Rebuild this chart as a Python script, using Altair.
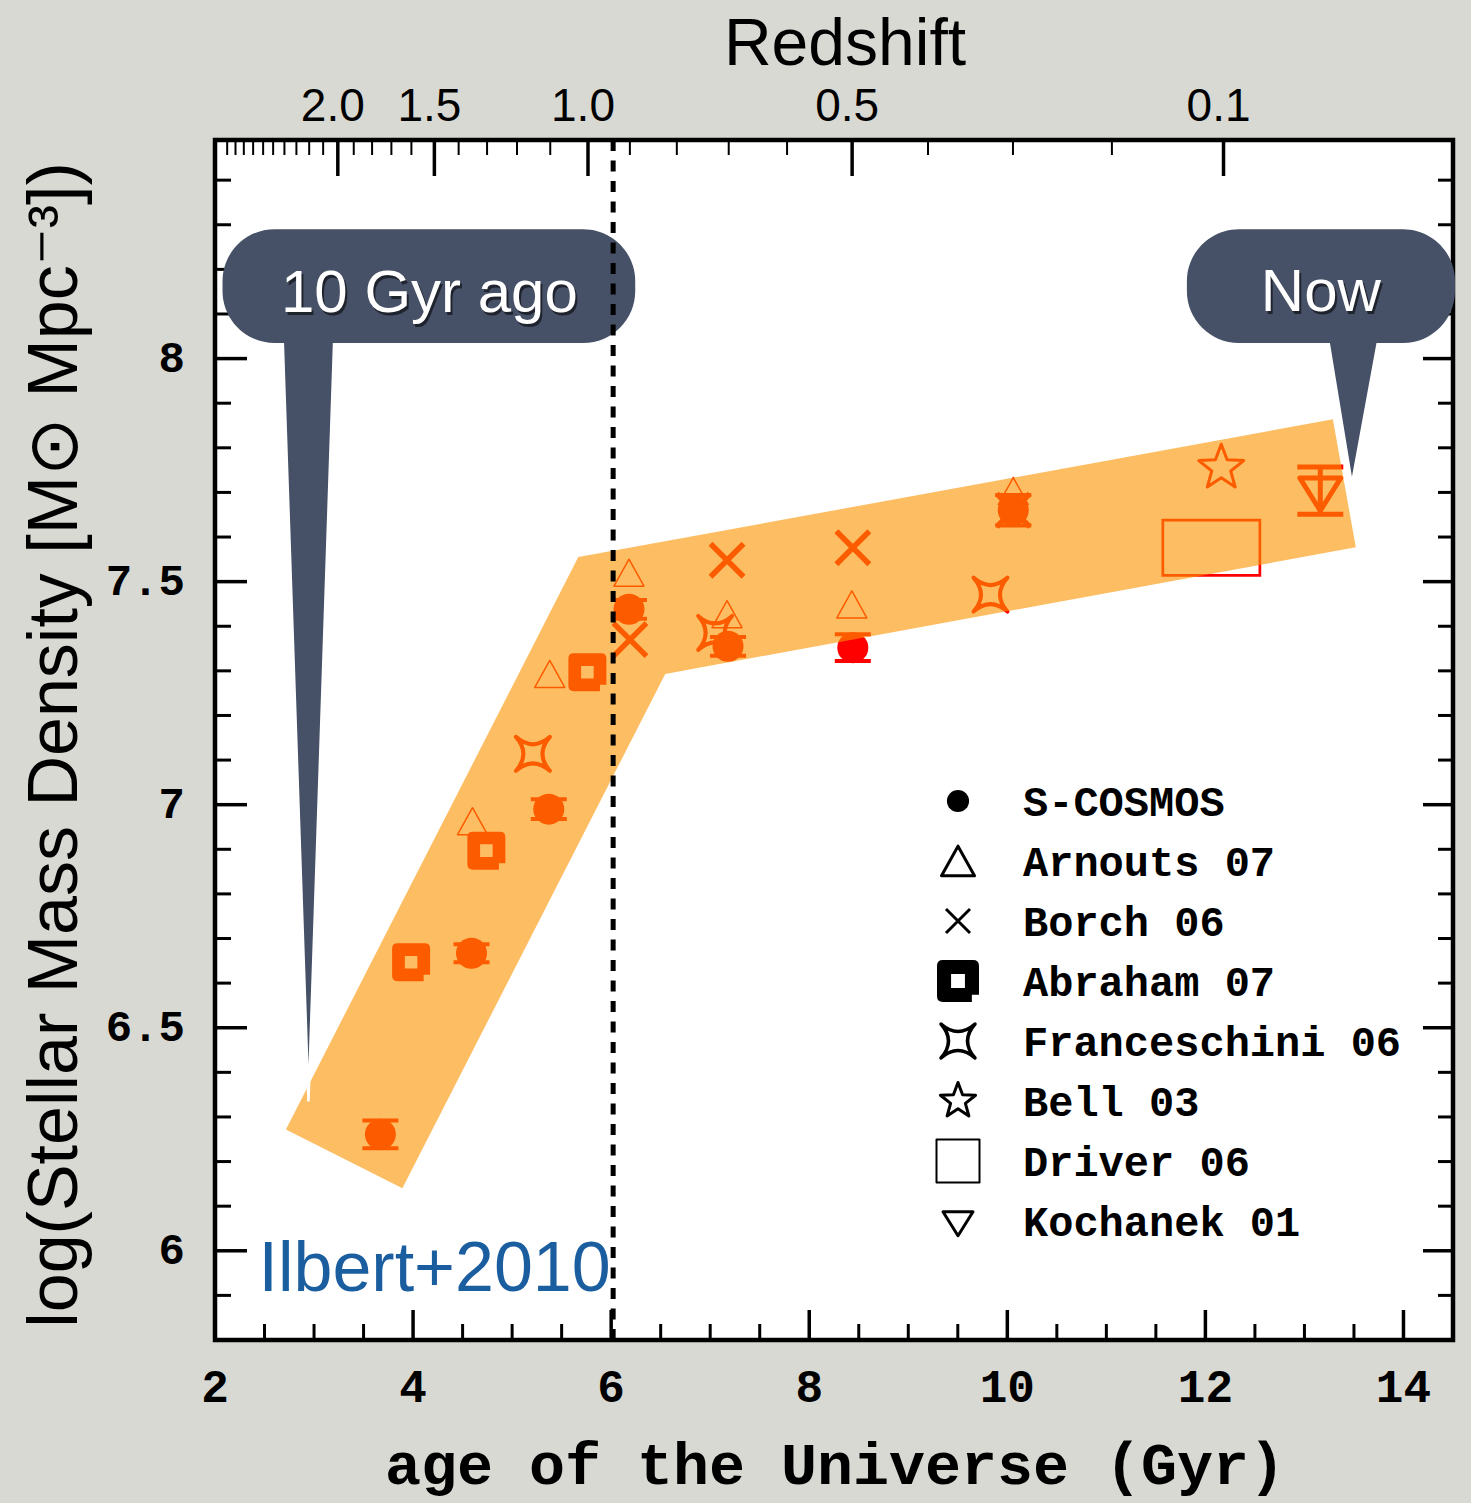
import altair as alt
import pandas as pd

# ---------------------------------------------------------------
# Stellar mass density (log rho*, Msun Mpc^-3) vs. age of the Universe
# ---------------------------------------------------------------

# S-COSMOS (filled circles with error bars)
scosmos_age = [3.67, 4.59, 5.37, 6.18, 7.18, 8.44, 10.06]
scosmos_rho = [6.261, 6.667, 6.990, 7.438, 7.355, 7.352, 7.660]
scosmos_err = [0.031, 0.020, 0.022, 0.021, 0.021, 0.030, 0.034]

# Arnouts 07 (open triangles)
arnouts_age = [4.60, 5.38, 6.18, 7.17, 8.43, 10.06]
arnouts_rho = [6.963, 7.293, 7.520, 7.427, 7.449, 7.703]

# Borch 06 (crosses)
borch_age = [6.19, 7.17, 8.44, 10.06]
borch_rho = [7.370, 7.548, 7.576, 7.660]

# Abraham 07 (rounded squares)
abraham_age = [3.98, 4.74, 5.76]
abraham_rho = [6.647, 6.897, 7.297]

# Franceschini 06 (four-point stars)
franceschini_age = [5.21, 7.05, 9.83]
franceschini_rho = [7.114, 7.385, 7.471]

# Bell 03 (five-point star)
bell_age = [12.16]
bell_rho = [7.755]

# Driver 06 (box: age range x density range)
driver_age = [11.57, 12.55]
driver_rho = [7.514, 7.638]

# Kochanek 01 (down triangle with error bar)
kochanek_age = [13.16]
kochanek_rho = [7.704]
kochanek_err = [0.053]

# Shaded evolution band (polygon vertices)
band_age = [2.716, 5.668, 13.287, 13.519, 6.546, 3.892, 2.716]
band_rho = [6.272, 7.555, 7.864, 7.577, 7.293, 6.140, 6.272]

# Dotted divider
divider_age = [6.02]

# Axis ticks and labels
x_major = [2, 4, 6, 8, 10, 12, 14]
x_major_labels = ["2", "4", "6", "8", "10", "12", "14"]
x_minor = [2.5, 3, 3.5, 4.5, 5, 5.5, 6.5, 7, 7.5, 8.5, 9, 9.5,
           10.5, 11, 11.5, 12.5, 13, 13.5]
y_major = [6, 6.5, 7, 7.5, 8]
y_major_labels = ["6", "6.5", "7", "7.5", "8"]
y_minor = [5.9, 6.1, 6.2, 6.3, 6.4, 6.6, 6.7, 6.8, 6.9, 7.1, 7.2, 7.3,
           7.4, 7.6, 7.7, 7.8, 7.9, 8.1, 8.2, 8.3, 8.4]

# Redshift axis (top): ages of the redshift ticks
z_labels = ["2.0", "1.5", "1.0", "0.5", "0.1"]
z_major_age = [3.24, 4.215, 5.766, 8.433, 12.183]
z_minor_age = [2.123, 2.207, 2.291, 2.385, 2.486, 2.587, 2.701, 2.822,
               2.951, 3.092, 3.401, 3.586, 3.781, 3.983, 4.460, 4.747,
               5.049, 5.385, 6.189, 6.663, 7.187, 7.776, 9.199, 10.057,
               11.056]

legend_labels = ["S-COSMOS", "Arnouts 07", "Borch 06", "Abraham 07",
                 "Franceschini 06", "Bell 03", "Driver 06", "Kochanek 01"]

# Callouts
callout_text = ["10 Gyr ago", "Now"]
callout_box_age = [[2.076, 6.243], [11.813, 14.52]]
callout_box_rho = [8.035, 8.290]
callout_tail_age = [[2.681, 3.206, 2.944], [13.226, 13.761, 13.479]]
callout_tail_rho = [[8.06, 8.06, 6.335], [8.06, 8.06, 7.719]]
callout_text_age = [4.165, 13.166]
callout_text_rho = [8.104, 8.106]

credit_text = ["Ilbert+2010"]
credit_age = [2.439]
credit_rho = [5.909]

# ---------------------------------------------------------------
W, H = 1238, 1200
RED = "#ff0000"
SLATE = "#465066"
SANS = "Liberation Sans, Arial, Helvetica, sans-serif"
MONO = "Liberation Mono, Courier New, monospace"

xs = alt.Scale(domain=[2, 14.5], nice=False, zero=False)
ys = alt.Scale(domain=[5.8, 8.49], nice=False, zero=False)


def X(field="age"):
    return alt.X(f"{field}:Q", scale=xs, axis=None)


def Y(field="rho"):
    return alt.Y(f"{field}:Q", scale=ys, axis=None)


# Symbol paths
TRI_UP = "M0,-0.9L1,0.9L-1,0.9Z"
TRI_DOWN = "M-1,-0.62L1,-0.62L0,0.98Z"
CROSS = "M-1,-1L1,1M-1,1L1,-1"
ABRAHAM = ("M-0.72,-1L0.72,-1Q1,-1 1,-0.72L1,0.66L0.66,0.66L0.66,1L-0.72,1"
           "Q-1,1 -1,0.72L-1,-0.72Q-1,-1 -0.72,-1Z"
           "M-0.33,-0.33L-0.33,0.33L0.33,0.33L0.33,-0.33Z")
STAR4 = "M-1,-1Q0,-0.12 1,-1Q0.12,0 1,1Q0,0.12 -1,1Q-0.12,0 -1,-1Z"
STAR5 = ("M0,-1L0.247,-0.34L0.951,-0.309L0.399,0.13L0.588,0.809L0,0.42"
         "L-0.588,0.809L-0.399,0.13L-0.951,-0.309L-0.247,-0.34Z")
HBAR = "M-1,0L1,0"


def points(age, rho, shape, size, filled, sw=1.0, color=RED):
    df = pd.DataFrame({"age": age, "rho": rho})
    kw = dict(shape=shape, size=size, opacity=1, strokeWidth=sw)
    if filled:
        kw.update(filled=True, fill=color, strokeOpacity=0)
    else:
        kw.update(filled=False, stroke=color, strokeJoin="round")
    return alt.Chart(df).mark_point(**kw).encode(x=X(), y=Y())


layers = []

# Driver 06 box
drv = pd.DataFrame({"a0": [driver_age[0]], "a1": [driver_age[1]],
                    "r0": [driver_rho[0]], "r1": [driver_rho[1]]})
layers.append(alt.Chart(drv).mark_rect(fillOpacity=0, stroke=RED, strokeWidth=2.7)
              .encode(x=X("a0"), x2="a1", y=Y("r0"), y2="r1"))

# S-COSMOS error bars and points
sc = pd.DataFrame({"age": scosmos_age, "rho": scosmos_rho, "err": scosmos_err})
sc["lo"] = sc["rho"] - sc["err"]
sc["hi"] = sc["rho"] + sc["err"]
layers.append(alt.Chart(sc).mark_rule(color=RED, strokeWidth=4)
              .encode(x=X(), y=Y("lo"), y2="hi"))
for col in ["lo", "hi"]:
    layers.append(alt.Chart(sc).mark_point(shape=HBAR, size=36 ** 2, filled=False,
                                           stroke=RED, strokeWidth=4, opacity=1)
                  .encode(x=X(), y=Y(col)))
layers.append(points(scosmos_age, scosmos_rho, "circle", 962, True))

layers.append(points(arnouts_age, arnouts_rho, TRI_UP, 900, False, 1.5))
layers.append(points(borch_age, borch_rho, CROSS, 1089, False, 5.5))
layers.append(points(abraham_age, abraham_rho, ABRAHAM, 1444, True))
layers.append(points(franceschini_age, franceschini_rho, STAR4, 1156, False, 4))
layers.append(points(bell_age, bell_rho, STAR5, 2240, False, 3))

# Kochanek 01
kc = pd.DataFrame({"age": kochanek_age, "rho": kochanek_rho, "err": kochanek_err})
kc["lo"] = kc["rho"] - kc["err"]
kc["hi"] = kc["rho"] + kc["err"]
layers.append(alt.Chart(kc).mark_rule(color=RED, strokeWidth=5)
              .encode(x=X(), y=Y("lo"), y2="hi"))
for col in ["lo", "hi"]:
    layers.append(alt.Chart(kc).mark_point(shape=HBAR, size=46 ** 2, filled=False,
                                           stroke=RED, strokeWidth=5, opacity=1)
                  .encode(x=X(), y=Y(col)))
layers.append(points(kochanek_age, kochanek_rho, TRI_DOWN, 1681, False, 5))

# Translucent evolution band on top of the markers
band = pd.DataFrame({"age": band_age, "rho": band_rho, "i": list(range(len(band_age)))})
layers.append(alt.Chart(band).mark_line(fill="#fb9400", fillOpacity=0.61,
                                        strokeOpacity=0, interpolate="linear-closed")
              .encode(x=X(), y=Y(), order="i:Q"))

# Frame
frame = pd.DataFrame({"k": [0]})
layers.append(alt.Chart(frame).mark_rect(fillOpacity=0, stroke="black", strokeWidth=4.5)
              .encode(x=alt.value(0), x2=alt.value(W), y=alt.value(0), y2=alt.value(H)))

# Inward ticks: bottom / top (age), left / right (density)
xmaj = pd.DataFrame({"age": x_major, "label": x_major_labels})
xmin = pd.DataFrame({"age": x_minor})
layers.append(alt.Chart(xmaj).mark_rule(color="black", strokeWidth=3.5)
              .encode(x=X(), y=alt.value(H), y2=alt.value(H - 30)))
layers.append(alt.Chart(xmin).mark_rule(color="black", strokeWidth=3)
              .encode(x=X(), y=alt.value(H), y2=alt.value(H - 16)))
layers.append(alt.Chart(xmaj).mark_text(font=MONO, fontSize=46, fontWeight="bold",
                                        color="black", baseline="alphabetic")
              .encode(x=X(), y=alt.value(H + 62), text="label:N"))

zmaj = pd.DataFrame({"age": z_major_age, "label": z_labels})
zmin = pd.DataFrame({"age": z_minor_age})
layers.append(alt.Chart(zmaj).mark_rule(color="black", strokeWidth=3.5)
              .encode(x=X(), y=alt.value(0), y2=alt.value(36)))
layers.append(alt.Chart(zmin).mark_rule(color="black", strokeWidth=2)
              .encode(x=X(), y=alt.value(0), y2=alt.value(15)))

ymaj = pd.DataFrame({"rho": y_major, "label": y_major_labels})
ymin = pd.DataFrame({"rho": y_minor})
layers.append(alt.Chart(ymaj).mark_rule(color="black", strokeWidth=3.5)
              .encode(y=Y(), x=alt.value(0), x2=alt.value(32)))
layers.append(alt.Chart(ymin).mark_rule(color="black", strokeWidth=3)
              .encode(y=Y(), x=alt.value(0), x2=alt.value(16)))
layers.append(alt.Chart(ymaj).mark_rule(color="black", strokeWidth=3.5)
              .encode(y=Y(), x=alt.value(W), x2=alt.value(W - 30)))
layers.append(alt.Chart(ymin).mark_rule(color="black", strokeWidth=3)
              .encode(y=Y(), x=alt.value(W), x2=alt.value(W - 15)))
layers.append(alt.Chart(ymaj).mark_text(font=MONO, fontSize=44, fontWeight="bold",
                                        color="black", align="right", baseline="middle")
              .encode(y=Y(), x=alt.value(-30), text="label:N"))

# Callouts
for k in range(2):
    tail = pd.DataFrame({"age": callout_tail_age[k], "rho": callout_tail_rho[k],
                         "i": [0, 1, 2]})
    layers.append(alt.Chart(tail).mark_line(fill=SLATE, stroke="white", strokeWidth=2.5,
                                            interpolate="linear-closed")
                  .encode(x=X(), y=Y(), order="i:Q"))
    box = pd.DataFrame({"a0": [callout_box_age[k][0]], "a1": [callout_box_age[k][1]],
                        "r0": [callout_box_rho[0]], "r1": [callout_box_rho[1]]})
    layers.append(alt.Chart(box).mark_rect(cornerRadius=52, color=SLATE)
                  .encode(x=X("a0"), x2="a1", y=Y("r0"), y2="r1"))

ctext = pd.DataFrame({"age": callout_text_age, "rho": callout_text_rho, "t": callout_text})
layers.append(alt.Chart(ctext).mark_text(font=SANS, fontSize=60, color="black",
                                         opacity=0.55, dx=2, dy=3, baseline="alphabetic")
              .encode(x=X(), y=Y(), text="t:N"))
layers.append(alt.Chart(ctext).mark_text(font=SANS, fontSize=60, color="white",
                                         baseline="alphabetic")
              .encode(x=X(), y=Y(), text="t:N"))

# Dotted divider
div = pd.DataFrame({"age": divider_age})
layers.append(alt.Chart(div).mark_rule(color="black", strokeWidth=5, strokeDash=[11, 9.5])
              .encode(x=X(), y=alt.value(0), y2=alt.value(H)))

# Redshift labels and titles
layers.append(alt.Chart(zmaj).mark_text(font=SANS, fontSize=46, color="black", dx=-5,
                                        baseline="alphabetic")
              .encode(x=X(), y=alt.value(-19), text="label:N"))
layers.append(alt.Chart(pd.DataFrame({"t": ["Redshift"]}))
              .mark_text(font=SANS, fontSize=66, color="black", baseline="alphabetic")
              .encode(x=alt.value(630), y=alt.value(-75), text="t:N"))
layers.append(alt.Chart(pd.DataFrame({"t": ["age of the Universe (Gyr)"]}))
              .mark_text(font=MONO, fontSize=60, fontWeight="bold", color="black",
                         baseline="alphabetic")
              .encode(x=alt.value(620), y=alt.value(1344), text="t:N"))
layers.append(alt.Chart(pd.DataFrame({"t": ["log(Stellar Mass Density [M\u2299 Mpc\u207b\u00b3])"]}))
              .mark_text(font=SANS, fontSize=70, color="black", angle=270,
                         baseline="alphabetic", align="center")
              .encode(x=alt.value(-138), y=alt.value(605), text="t:N"))

# Credit
cr = pd.DataFrame({"age": credit_age, "rho": credit_rho, "t": credit_text})
layers.append(alt.Chart(cr).mark_text(font=SANS, fontSize=70, color="#1b5e9f",
                                      align="left", baseline="alphabetic")
              .encode(x=X(), y=Y(), text="t:N"))

# Legend (black symbols)
legend_symbols = [
    ("circle", 491, True, 0),
    (TRI_UP, 1089, False, 3),
    (CROSS, 576, False, 3),
    (ABRAHAM, 1764, True, 0),
    (STAR4, 1156, False, 3.5),
    (STAR5, 1369, False, 3),
    ("square", 1849, False, 2),
    (TRI_DOWN, 900, False, 3),
]
LEG_X, LEG_Y0, LEG_DY, LEG_TX = 743, 661, 60, 808
for i, (label, (shape, size, filled, sw)) in enumerate(zip(legend_labels, legend_symbols)):
    row = pd.DataFrame({"t": [label]})
    kw = dict(shape=shape, size=size, opacity=1)
    if filled:
        kw.update(filled=True, fill="black", strokeOpacity=0)
    else:
        kw.update(filled=False, stroke="black", strokeWidth=sw, strokeJoin="round")
    ly = LEG_Y0 + i * LEG_DY
    layers.append(alt.Chart(row).mark_point(**kw)
                  .encode(x=alt.value(LEG_X), y=alt.value(ly)))
    layers.append(alt.Chart(row).mark_text(font=MONO, fontSize=42, fontWeight="bold",
                                           color="black", align="left",
                                           baseline="alphabetic")
                  .encode(x=alt.value(LEG_TX), y=alt.value(ly + 15), text="t:N"))

chart = (
    alt.layer(*layers)
    .properties(width=W, height=H,
                padding={"left": 215, "top": 140, "right": 18, "bottom": 163},
                autosize=alt.AutoSizeParams(type="none"))
    .configure(background="#d9d9d3")
    .configure_view(fill="white", stroke="transparent")
)

chart.save("out.html", embed_options={"renderer": "svg", "actions": False})
